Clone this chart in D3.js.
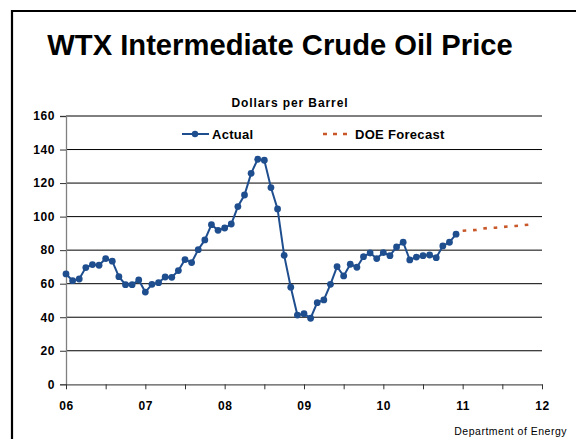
<!DOCTYPE html>
<html>
<head>
<meta charset="utf-8">
<script src="https://cdn.jsdelivr.net/npm/d3@7"></script>
<style>
  body { margin: 0; background: #fff; }
  svg { display: block; font-family: "Liberation Sans", Arial, sans-serif; }
</style>
</head>
<body>
<svg id="chart" width="576" height="439"></svg>
<script>
// monthly WTI price, Jan 2006 .. Dec 2010
var actual = [
	65.8, 61.8, 62.8, 69.6, 71.4, 71.0, 75.0, 73.4, 64.2, 59.4, 59.4, 62.2,
	55.0, 59.6, 60.6, 64.0, 63.8, 67.8, 74.4, 72.6, 80.3, 86.1, 95.2, 91.8,
	93.2, 95.6, 106.0, 112.9, 125.8, 134.2, 133.6, 117.3, 104.6, 76.9, 57.9, 41.3,
	42.1, 39.4, 48.7, 50.3, 59.6, 70.2, 64.6, 71.6, 69.8, 76.1, 78.3, 75.0,
	78.5, 76.7, 81.9, 84.7, 74.2, 75.9, 76.7, 77.1, 75.5, 82.5, 84.7, 89.5
];
// DOE forecast, Jan 2011 .. Nov 2011
var forecast = [91.6, 91.8, 92.0, 92.8, 93.3, 93.4, 93.8, 94.2, 94.4, 94.8, 95.2];
var forecastStart = 60; // month index of first forecast value
var yearLabels = ["06", "07", "08", "09", "10", "11", "12"];
var yTicks = [0, 20, 40, 60, 80, 100, 120, 140, 160];

var svg = d3.select('#chart');

var x = d3.scaleLinear().domain([0, 72]).range([66, 542]);
var y = d3.scaleLinear().domain([0, 160]).range([384.3, 116]);

// slide frame
svg.append('path')
	.attr('d', 'M12,439 L12,11 L580,11')
	.attr('fill', 'none')
	.attr('stroke', '#000')
	.attr('stroke-width', 2.2);

svg.append('text')
	.attr('x', 280).attr('y', 55)
	.attr('text-anchor', 'middle')
	.style('font-size', '29.2px').style('font-weight', 'bold')
	.text('WTX Intermediate Crude Oil Price');

svg.append('text')
	.attr('x', 290).attr('y', 107)
	.attr('text-anchor', 'middle')
	.style('font-size', '12px').style('font-weight', 'bold')
	.style('letter-spacing', '0.9px')
	.text('Dollars per Barrel');

// grid
svg.append('g').selectAll('line')
	.data(yTicks.slice(1))
	.enter().append('line')
	.attr('x1', x(0)).attr('x2', x(72))
	.attr('y1', function(d){ return y(d); })
	.attr('y2', function(d){ return y(d); })
	.attr('stroke', '#000')
	.attr('stroke-width', 1);

// y axis
var yAxis = d3.axisLeft(y).tickValues(yTicks).tickSize(6).tickPadding(5);
var gy = svg.append('g').attr('transform', 'translate(' + x(0) + ',0)').call(yAxis);
gy.select('.domain').attr('stroke', '#808080').attr('stroke-width', 1.3);
gy.selectAll('.tick line').attr('stroke', '#333');
gy.selectAll('text')
	.style('font-size', '12px').style('font-weight', 'bold')
	.style('letter-spacing', '0.6px')
	.attr('fill', '#000');

// x axis
var xAxis = d3.axisBottom(x)
	.tickValues(d3.range(0, 73, 6))
	.tickSize(5).tickSizeOuter(0).tickPadding(12)
	.tickFormat(function(d){ return d % 12 === 0 ? yearLabels[d / 12] : ''; });
var gx = svg.append('g').attr('transform', 'translate(0,' + y(0) + ')').call(xAxis);
gx.select('.domain').attr('stroke', '#555').attr('stroke-width', 1.3);
gx.selectAll('.tick line').attr('stroke', '#333');
gx.selectAll('text')
	.style('font-size', '12px').style('font-weight', 'bold')
	.style('letter-spacing', '0.6px')
	.attr('fill', '#000');

// forecast line
var line = d3.line()
	.x(function(d){ return x(d.i); })
	.y(function(d){ return y(d.v); });

var fData = forecast.map(function(v, k){ return {i: forecastStart + k, v: v}; });
svg.append('path')
	.datum(fData)
	.attr('d', line)
	.attr('fill', 'none')
	.attr('stroke', '#c8582a')
	.attr('stroke-width', 2.6)
	.attr('stroke-dasharray', '3.6,6.8');

// actual line
var aData = actual.map(function(v, k){ return {i: k, v: v}; });
svg.append('path')
	.datum(aData)
	.attr('d', line)
	.attr('fill', 'none')
	.attr('stroke', '#1f4e8f')
	.attr('stroke-width', 2);

svg.append('g').selectAll('circle')
	.data(aData)
	.enter().append('circle')
	.attr('cx', function(d){ return x(d.i); })
	.attr('cy', function(d){ return y(d.v); })
	.attr('r', 3.4)
	.attr('fill', '#1f4e8f');

// legend
var lg = svg.append('g').attr('transform', 'translate(0,134)');
lg.append('line').attr('x1', 182).attr('x2', 209).attr('y1', 0).attr('y2', 0)
	.attr('stroke', '#1f4e8f').attr('stroke-width', 2);
lg.append('circle').attr('cx', 195).attr('cy', 0).attr('r', 3.2).attr('fill', '#1f4e8f');
lg.append('text').attr('x', 212).attr('y', 4.6)
	.style('font-size', '13px').style('font-weight', 'bold').style('letter-spacing', '0.3px')
	.text('Actual');
lg.append('line').attr('x1', 323).attr('x2', 350).attr('y1', 0).attr('y2', 0)
	.attr('stroke', '#c8582a').attr('stroke-width', 2.6)
	.attr('stroke-dasharray', '4,6');
lg.append('text').attr('x', 355).attr('y', 4.6)
	.style('font-size', '13px').style('font-weight', 'bold').style('letter-spacing', '0.3px')
	.text('DOE Forecast');

svg.append('text')
	.attr('x', 567).attr('y', 435)
	.attr('text-anchor', 'end')
	.style('font-size', '10.5px')
	.style('letter-spacing', '0.5px')
	.text('Department of Energy');
</script>
</body>
</html>
